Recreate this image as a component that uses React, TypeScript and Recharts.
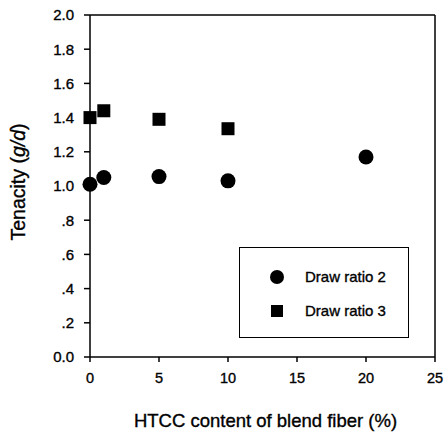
import {
  Legend,
  ReferenceLine,
  Scatter,
  ScatterChart,
  XAxis,
  YAxis,
} from "recharts";

// HTCC content (%) and tenacity (g/d) for each draw ratio
const ratio2Content = [0, 1, 5, 10, 20];
const ratio2Tenacity = [1.01, 1.05, 1.055, 1.03, 1.17];
const ratio3Content = [0, 1, 5, 10];
const ratio3Tenacity = [1.4, 1.44, 1.39, 1.335];

const xTicks = [0, 5, 10, 15, 20, 25];
const yTicks = [0, 0.2, 0.4, 0.6, 0.8, 1.0, 1.2, 1.4, 1.6, 1.8, 2.0];

const ratio2 = ratio2Content.map((x, i) => ({ x, y: ratio2Tenacity[i] }));
const ratio3 = ratio3Content.map((x, i) => ({ x, y: ratio3Tenacity[i] }));

const FONT = "Arial, 'Liberation Sans', Helvetica, sans-serif";
const INK = "#000";
// slight outline so the type reads a little heavier
const heavy = { stroke: INK, strokeWidth: 0.35 };

// 1.4 -> "1.4", 0.6 -> ".6", 0 -> "0.0"
const fmtY = (v: number) => {
  if (v === 0) return "0.0";
  const s = v.toFixed(1);
  return v < 1 ? s.slice(1) : s;
};

const Dot = (p: any) => <circle cx={p.cx} cy={p.cy} r={7.5} fill={INK} />;
const Box = (p: any) => <rect x={p.cx - 6.5} y={p.cy - 6.5} width={13} height={13} fill={INK} />;

function LegendBox({ payload }: any) {
  return (
    <svg width={170} height={91} style={{ display: "block" }}>
      {(payload || []).map((e: any, i: number) => {
        const cy = 29 + i * 34;
        return (
          <g key={e.value}>
            {e.type === "square" ? (
              <rect x={31} y={cy - 6} width={12} height={12} fill={INK} />
            ) : (
              <circle cx={37} cy={cy} r={7} fill={INK} />
            )}
            <text x={65} y={cy} dy="0.35em" fontSize={15} fontFamily={FONT} fill={INK} {...heavy}>
              {e.value}
            </text>
          </g>
        );
      })}
    </svg>
  );
}

export default function App() {
  return (
    <div style={{ position: "absolute", left: 0, top: 0, background: "#fff" }}>
      <ScatterChart width={446} height={432} margin={{ top: 15, right: 11, bottom: 0, left: 0 }}>
        <XAxis
          type="number"
          dataKey="x"
          domain={[0, 25]}
          ticks={xTicks}
          tickSize={5}
          tickMargin={11}
          height={75}
          stroke={INK}
          strokeWidth={1.5}
          tick={{ fontSize: 14.5, fill: INK, fontFamily: FONT, ...heavy }}
          label={{
            content: ({ viewBox }: any) => (
              <text
                x={viewBox.x + viewBox.width / 2 + 3}
                y={viewBox.y + 64}
                dy="0.35em"
                textAnchor="middle"
                fontSize={18.5}
                fontFamily={FONT}
                fill={INK}
                {...heavy}
              >
                HTCC content of blend fiber (%)
              </text>
            ),
          }}
        />
        <YAxis
          type="number"
          dataKey="y"
          domain={[0, 2]}
          ticks={yTicks}
          tickFormatter={fmtY}
          tickSize={6}
          tickMargin={10}
          width={90}
          stroke={INK}
          strokeWidth={1.5}
          tick={{ fontSize: 15, fill: INK, fontFamily: FONT, ...heavy }}
          label={{
            content: ({ viewBox }: any) => {
              const cx = viewBox.x + 18;
              const cy = viewBox.y + viewBox.height / 2 - 4;
              return (
                <text
                  x={cx}
                  y={cy}
                  dy="0.35em"
                  textAnchor="middle"
                  transform={`rotate(-90 ${cx} ${cy})`}
                  fontSize={19.5}
                  fontFamily={FONT}
                  fill={INK}
                  {...heavy}
                >
                  Tenacity (<tspan fontStyle="italic">g/d</tspan>)
                </text>
              );
            },
          }}
        />
        <ReferenceLine y={2} stroke={INK} strokeWidth={1.5} />
        <ReferenceLine x={25} stroke={INK} strokeWidth={1.5} />
        <Legend
          layout="vertical"
          align="center"
          verticalAlign="middle"
          content={LegendBox}
          wrapperStyle={{
            position: "absolute",
            left: 239,
            top: 247,
            width: 170,
            height: 91,
            border: "1.5px solid #000",
            boxSizing: "border-box",
            background: "#fff",
          }}
        />
        <Scatter name="Draw ratio 2" data={ratio2} legendType="circle" shape={Dot} isAnimationActive={false} />
        <Scatter name="Draw ratio 3" data={ratio3} legendType="square" shape={Box} isAnimationActive={false} />
      </ScatterChart>
    </div>
  );
}
